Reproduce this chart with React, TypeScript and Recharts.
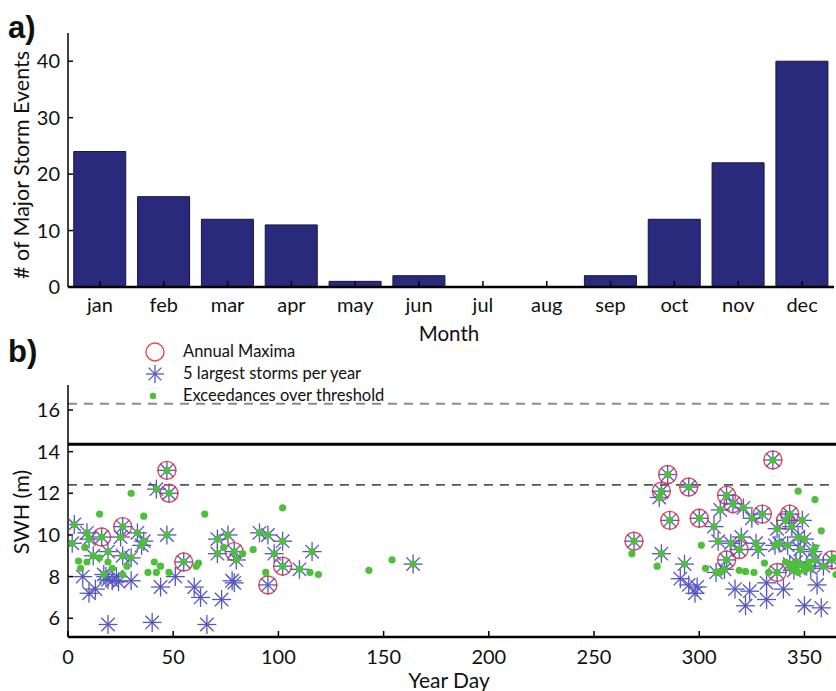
import React from "react"
import {
  BarChart,
  Bar,
  XAxis,
  YAxis,
  ScatterChart,
  Scatter,
  ReferenceLine,
} from "recharts"

// panel a: monthly counts
const months = ["jan", "feb", "mar", "apr", "may", "jun", "jul", "aug", "sep", "oct", "nov", "dec"]
const stormCounts = [24, 16, 12, 11, 1, 2, 0, 0, 2, 12, 22, 40]
const countTicks = [0, 10, 20, 30, 40]

// panel b: [year day, SWH (m)]
const annualMaxima: [number, number][] = [
  [16, 9.9], [26, 10.4], [47, 13.1], [48, 12.0], [55, 8.7], [79, 9.2], [95, 7.6], [102, 8.5],
  [269, 9.7], [282, 12.1], [285, 12.9], [286, 10.7], [295, 12.3], [300, 10.8], [313, 11.9],
  [316, 11.5], [313, 8.8], [319, 9.3], [330, 11.0], [335, 13.6], [337, 8.2], [343, 11.0],
  [341, 10.7], [363, 8.8],
]

const otherLargeStorms: [number, number][] = [
  [3, 10.5], [9, 10.1], [2, 9.6], [10, 9.8], [12, 9.0], [19, 9.2], [25, 9.9], [26, 9.0],
  [30, 8.9], [33, 10.1], [35, 9.5], [36, 9.7], [47, 10.0], [7, 8.0], [10, 7.2], [13, 7.4],
  [17, 8.1], [19, 7.85], [23, 8.0], [24, 7.75], [30, 7.8], [44, 7.5], [19, 5.7], [40, 5.8],
  [42, 12.2], [51, 8.0], [60, 7.5], [63, 7.0], [66, 5.7], [73, 6.9], [71, 9.8], [76, 10.0],
  [71, 9.1], [80, 8.8], [78, 7.8], [79, 7.7], [91, 10.1], [95, 10.0], [98, 9.1], [102, 9.7],
  [110, 8.35], [116, 9.2], [164, 8.6], [21, 7.8], [18, 8.0],
  [281, 11.8], [282, 9.1], [293, 8.6], [291, 7.9], [295, 7.6], [299, 7.5], [298, 7.2],
  [307, 10.4], [309, 9.7], [308, 8.2], [310, 11.2], [321, 11.3], [325, 10.8], [315, 9.6],
  [320, 9.9], [328, 9.3], [337, 10.3], [336, 9.5], [342, 9.5], [347, 9.9], [349, 10.7],
  [344, 10.4], [350, 9.8], [348, 9.3], [346, 8.7], [351, 8.5], [355, 8.8], [345, 8.3],
  [317, 7.4], [324, 7.3], [332, 7.7], [340, 7.4], [322, 6.6], [332, 6.9], [350, 6.6],
  [358, 6.5], [356, 7.6], [312, 8.35], [327, 9.6], [353, 8.4], [359, 8.5], [354, 9.2],
  [338, 9.6], [343, 8.6],
]

const otherExceedances: [number, number][] = [
  [30, 12.0], [15, 11.0], [36, 10.9], [5, 8.75], [9, 8.7], [8, 9.4], [15, 8.9], [19, 8.7],
  [6, 8.4], [21, 8.4], [28, 8.5], [41, 8.7], [44, 8.5], [38, 8.2], [42, 8.2], [48, 8.2],
  [26, 8.1], [65, 11.0], [102, 11.3], [74, 9.4], [83, 9.1], [88, 9.3], [62, 8.65], [61, 8.5],
  [94, 8.2], [115, 8.2], [119, 8.1], [143, 8.3], [154, 8.8],
  [268, 9.1], [280, 8.5], [301, 9.5], [303, 8.4], [347, 12.1], [355, 11.7], [358, 10.2],
  [355, 9.4], [319, 8.3], [322, 8.25], [326, 8.2], [331, 8.65], [333, 8.2], [344, 8.4],
  [365, 8.1], [364, 8.9], [310, 8.2], [343, 8.5], [346, 8.4], [348, 8.6], [350, 8.3],
  [352, 8.7], [341, 8.7], [347, 8.2], [345, 8.6],
]

const threshold = 8.05
const yearDayTicks = [0, 50, 100, 150, 200, 250, 300, 350]
const swhTicks = [6, 8, 10, 12, 14, 16]
const upperBound = 16.3
const returnLevel = 14.35
const lowerBound = 12.4

const font = "Lato, 'Open Sans', sans-serif"
const navy = "#2a2a7c"
const starBlue = "#5656c0"
const maxRed = "#ee4646"
const dotGreen = "#4dbf3b"

const toPts = (arr: [number, number][]) => arr.map(([x, y]) => ({ x, y }))

const barData = months.map((m, i) => ({ month: m, count: stormCounts[i] }))
const largestAll = [...annualMaxima, ...otherLargeStorms]
const exceedAll = [...largestAll.filter(([, y]) => y > threshold), ...otherExceedances]

function Asterisk({ cx, cy, r = 9.5 }: any) {
  const d = r * 0.707
  return (
    <g stroke={starBlue} strokeWidth={1.3}>
      <line x1={cx - r} y1={cy} x2={cx + r} y2={cy} />
      <line x1={cx} y1={cy - r} x2={cx} y2={cy + r} />
      <line x1={cx - d} y1={cy - d} x2={cx + d} y2={cy + d} />
      <line x1={cx - d} y1={cy + d} x2={cx + d} y2={cy - d} />
    </g>
  )
}

const Ring = ({ cx, cy }: any) => <circle cx={cx} cy={cy} r={9} fill="none" stroke={maxRed} strokeWidth={1.4} />
const Dot = ({ cx, cy }: any) => <circle cx={cx} cy={cy} r={3.6} fill={dotGreen} />

const tickStyle = { fontSize: 20, fill: "#111", fontFamily: font }

export default function App() {
  return (
    <div style={{ position: "absolute", left: 0, top: 0, width: 836, height: 691, background: "#fff", overflow: "hidden" }}>
      <div style={{ position: "absolute", left: 0, top: 0 }}>
        <BarChart width={836} height={345} data={barData} margin={{ top: 33, right: 2, left: 0, bottom: 0 }} barCategoryGap="9%">
          <XAxis
            dataKey="month"
            height={58}
            tickSize={-6}
            tickMargin={17}
            tick={tickStyle}
            tickLine={{ stroke: "#000", strokeWidth: 1.5 }}
            axisLine={{ stroke: "#000", strokeWidth: 2.5 }}
          />
          <YAxis
            width={68}
            domain={[0, 45]}
            ticks={countTicks}
            tickSize={-5}
            tickMargin={13}
            tick={tickStyle}
            tickLine={{ stroke: "#000", strokeWidth: 1.5 }}
            axisLine={{ stroke: "#000", strokeWidth: 1.5 }}
          />
          <Bar dataKey="count" fill={navy} stroke="#15153f" strokeWidth={1} isAnimationActive={false} />
        </BarChart>
      </div>
      <div style={{ position: "absolute", left: 0, top: 340 }}>
        <ScatterChart width={836} height={351} margin={{ top: 45, right: 0, left: 0, bottom: 0 }}>
          <XAxis
            type="number"
            dataKey="x"
            domain={[0, 365]}
            ticks={yearDayTicks}
            allowDataOverflow
            height={54}
            tickSize={-6}
            tickMargin={19}
            tick={tickStyle}
            tickLine={{ stroke: "#000", strokeWidth: 1.5 }}
            axisLine={{ stroke: "#000", strokeWidth: 2.5 }}
          />
          <YAxis
            type="number"
            dataKey="y"
            domain={[5.1, 17.2]}
            ticks={swhTicks}
            allowDataOverflow
            width={68}
            tickSize={-5}
            tickMargin={13}
            tick={tickStyle}
            tickLine={{ stroke: "#000", strokeWidth: 1.5 }}
            axisLine={{ stroke: "#000", strokeWidth: 1.5 }}
          />
          <ReferenceLine y={upperBound} stroke="#8a8a8a" strokeWidth={2} strokeDasharray="9 7" />
          <ReferenceLine y={returnLevel} stroke="#000" strokeWidth={3} />
          <ReferenceLine y={lowerBound} stroke="#555" strokeWidth={1.8} strokeDasharray="9 7" />
          <Scatter name="Annual Maxima" data={toPts(annualMaxima)} shape={Ring} isAnimationActive={false} />
          <Scatter name="5 largest storms per year" data={toPts(largestAll)} shape={Asterisk} isAnimationActive={false} />
          <Scatter name="Exceedances over threshold" data={toPts(exceedAll)} shape={Dot} isAnimationActive={false} />
        </ScatterChart>
      </div>
      <svg width={836} height={691} style={{ position: "absolute", left: 0, top: 0, pointerEvents: "none" }}>
        <g fontFamily={font} fill="#111">
          <text x={8} y={38} fontSize={31} fontWeight="bold" fontFamily="'Liberation Sans', Arial, sans-serif">a)</text>
          <text x={8} y={362} fontSize={31} fontWeight="bold" fontFamily="'Liberation Sans', Arial, sans-serif">b)</text>
          <text x={0} y={0} fontSize={21.5} textAnchor="middle" transform="translate(29,165) rotate(-90)">
            # of Major Storm Events
          </text>
          <text x={449} y={341} fontSize={20.5} textAnchor="middle">Month</text>
          <text x={0} y={0} fontSize={21.5} textAnchor="middle" transform="translate(29,512) rotate(-90)">SWH (m)</text>
          <text x={449} y={688} fontSize={21} textAnchor="middle">Year Day</text>
          <circle cx={155} cy={352} r={9} fill="none" stroke={maxRed} strokeWidth={1.4} />
          <Asterisk cx={155} cy={374} r={9} />
          <circle cx={153} cy={396} r={3.2} fill={dotGreen} />
          <text x={183} y={357} fontSize={16.5}>Annual Maxima</text>
          <text x={183} y={379} fontSize={16.5}>5 largest storms per year</text>
          <text x={183} y={401} fontSize={16.5}>Exceedances over threshold</text>
        </g>
      </svg>
    </div>
  )
}
